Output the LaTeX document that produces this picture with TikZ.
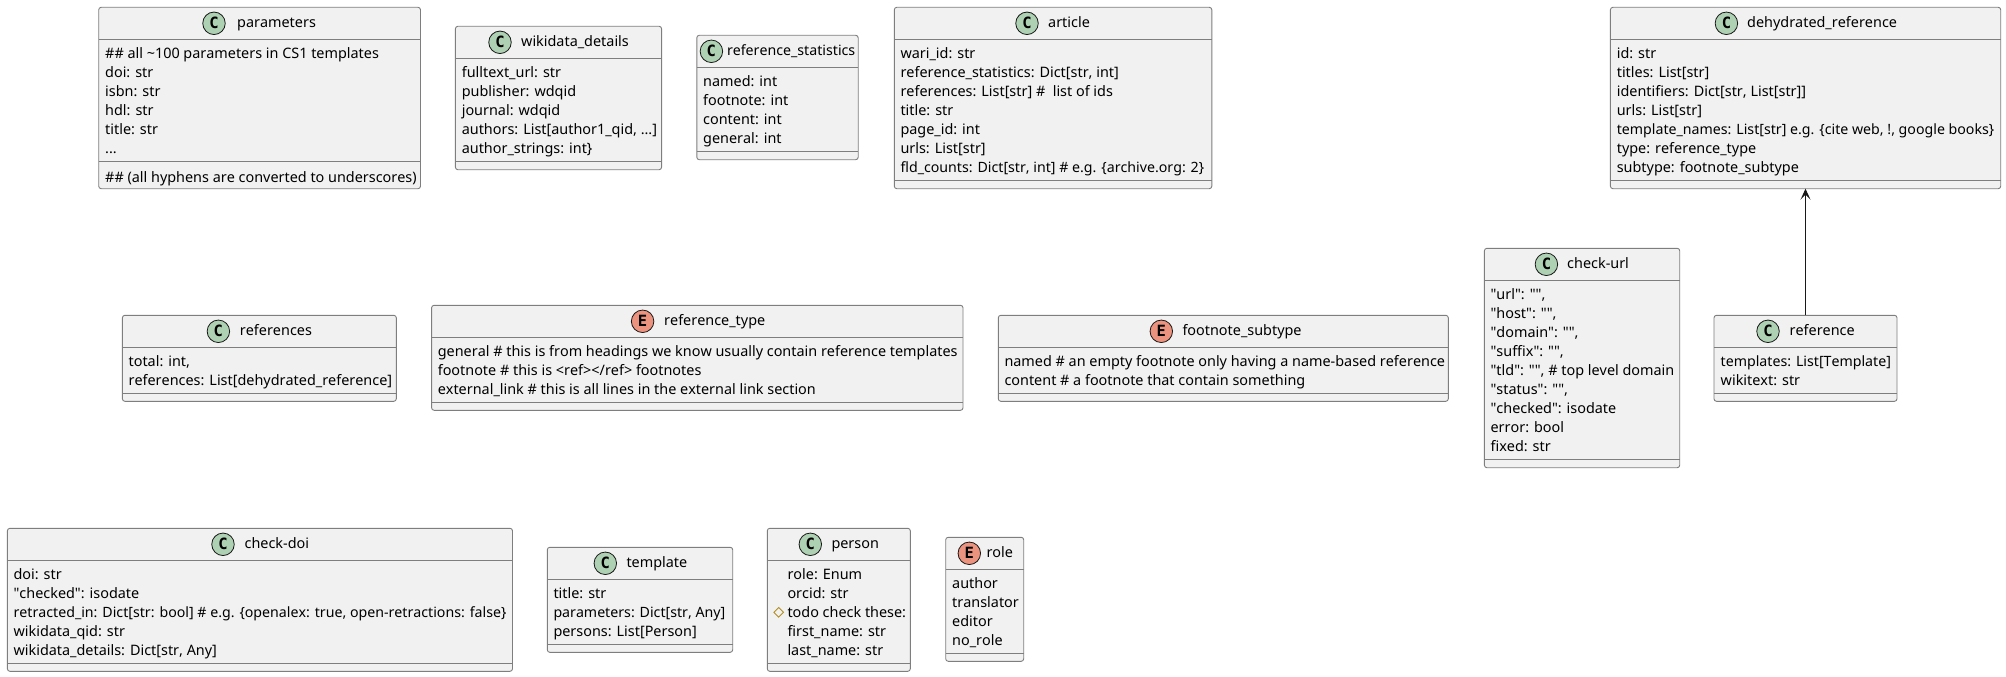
\documentclass[tikz,border=0pt]{standalone}
\usepackage{fontspec}
\setmainfont[Ligatures={NoCommon,TeXOff},Kerning=Off]{Noto Sans}
\newfontfamily\markfont{DejaVu Sans Mono}
\usetikzlibrary{arrows.meta}
\usetikzlibrary{shapes.geometric}

\definecolor{boxfill}{HTML}{F1F1F1}
\definecolor{boxline}{HTML}{7E7E7E}
\definecolor{classgreen}{HTML}{ADD1B2}
\definecolor{enumred}{HTML}{EB937F}
\definecolor{darkline}{HTML}{181818}
\definecolor{protectedgold}{HTML}{B38D22}

\tikzset{
  classbox/.style={draw=boxline, fill=boxfill, line width=0.9pt, rounded corners=2.5pt, inner sep=0pt, outer sep=0pt, anchor=north west},
  classline/.style={draw=boxline, line width=0.9pt},
  classmark/.style={circle, draw=darkline, line width=0.8pt, minimum size=22.5pt, inner sep=0pt, font=\markfont\fontsize{15.5}{16}\selectfont\bfseries},
  classtitle/.style={inner sep=0pt, anchor=mid west, font=\fontsize{14.4}{19}\selectfont},
  fieldlist/.style={inner sep=0pt, anchor=north west, align=left, font=\fontsize{14.4}{19}\selectfont, execute at begin node=\strut},
  assoc/.style={-{Stealth[length=11pt, width=10pt, inset=5pt]}, draw=darkline, line width=1.1pt}
}

\newcommand{\classframe}[7]{
  \node [classbox, minimum width={#4pt-#2pt}, minimum height={#5pt-#3pt}] (#1) at (#2,#3) {};
  \draw [classline] (#2,#6) -- (#4,#6);
  \draw [classline] (#2,#7) -- (#4,#7);
}
\newcommand{\classhead}[6]{
  \node [classmark, fill=#2] (#1-mark) at (#3) {#4};
  \node [classtitle] (#1-title) at ([yshift=-2pt]#5) {#6};
}
\newcommand{\classfields}[4]{
  \node [fieldlist] (#1) at (#2,#3-5.7) {#4};
}
\newcommand{\tightline}[1]{{\fontsize{14.18}{19}\selectfont #1}}

\begin{document}
\begin{tikzpicture}[x=1pt, y=-1pt]
  \useasboundingbox (0,0) rectangle (2006,677);

  \classframe{parameters}{98.7}{7.3}{420.5}{188.7}{39.3}{161.3}
  \classhead{parameters}{classgreen}{214,23.3}{C}{237,23.3}{parameters}
  \classfields{parameters-fields}{105}{53}{\#\# all \textasciitilde100 parameters in CS1 templates\\doi: str\\isbn: str\\hdl: str\\title: str\\...}
  \classfields{parameters-note}{105}{175}{\#\# (all hyphens are converted to underscores)}

  \classframe{wikidata_details}{455.4}{26.3}{661.6}{169.7}{58.3}{161.3}
  \classhead{wikidata_details}{classgreen}{500,42.3}{C}{521,42.3}{wikidata\_details}
  \classfields{wikidata_details-fields}{461.6}{72}{fulltext\_url: str\\publisher: wdqid\\journal: wdqid\\authors: List[author1\_qid, ...]\\author\_strings: int\}}

  \classframe{reference_statistics}{696.8}{35.3}{858.2}{159.7}{67.3}{151.7}
  \classhead{reference_statistics}{classgreen}{711.4,51.3}{C}{726.8,51.3}{\tightline{reference\_statistics}}
  \classfields{reference_statistics-fields}{703}{81.3}{named: int\\footnote: int\\content: int\\general: int}

  \classframe{article}{894.3}{7.3}{1211.8}{188.7}{39.3}{180.3}
  \classhead{article}{classgreen}{1027,23.3}{C}{1048,23.3}{article}
  \classfields{article-fields}{900.3}{53}{wari\_id: str\\reference\_statistics: Dict[str, int]\\references: List[str] \#~~list of ids\\title: str\\page\_id: int\\urls: List[str]\\\tightline{fld\_counts: Dict[str, int] \# e.g. \{archive.org: 2\}}}

  \classframe{dehydrated_reference}{1610.4}{7.3}{2000.7}{188.7}{39.3}{180.3}
  \classhead{dehydrated_reference}{classgreen}{1726.4,23.3}{C}{1747,23.3}{dehydrated\_reference}
  \classfields{dehydrated_reference-fields}{1616.6}{53}{id: str\\titles: List[str]\\identifiers: Dict[str, List[str]]\\urls: List[str]\\\tightline{template\_names: List[str] e.g. \{cite web, !, google books\}}\\type: reference\_type\\subtype: footnote\_subtype}

  \classframe{check_url}{1484.4}{248.3}{1679.7}{467.7}{280.7}{459.3}
  \classhead{check_url}{classgreen}{1546.4,264.3}{C}{1567,264.3}{check-url}
  \classfields{check_url-fields}{1490.4}{294.3}{"url": "",\\"host": "",\\"domain": "",\\"suffix": "",\\"tld": "", \# top level domain\\"status": "",\\"checked": isodate\\error: bool\\fixed: str}

  \classframe{reference}{1714}{315.3}{1897}{401.3}{347.3}{393.3}
  \classhead{reference}{classgreen}{1768,331.3}{C}{1789.4,331.3}{reference}
  \classfields{reference-fields}{1720.5}{361.3}{\tightline{templates: List[Template]}\\wikitext: str}

  \classframe{references}{122.4}{315.3}{396.3}{401.3}{347.3}{393.3}
  \classhead{references}{classgreen}{218.4,331.3}{C}{239.7,331.3}{references}
  \classfields{references-fields}{128.4}{361.3}{total: int,\\references: List[dehydrated\_reference]}

  \classframe{reference_type}{431.6}{305.3}{963}{410.3}{337.3}{402.3}
  \classhead{reference_type}{enumred}{642.6,321.3}{E}{664,321.3}{reference\_type}
  \classfields{reference_type-fields}{437.6}{351.3}{general \# this is from headings we know usually contain reference templates\\footnote \# this is <ref></ref> footnotes\\external\_link \# this is all lines in the external link section}

  \classframe{footnote_subtype}{998.3}{315.3}{1448.3}{401.3}{347.3}{393.3}
  \classhead{footnote_subtype}{enumred}{1161.3,331.3}{E}{1182.3,331.3}{footnote\_subtype}
  \classfields{footnote_subtype-fields}{1004.3}{361.3}{named \# an empty footnote only having a name-based reference\\content \# a footnote that contain something}

  \classframe{check_doi}{7.4}{528.3}{512.5}{671.3}{560.3}{663.3}
  \classhead{check_doi}{classgreen}{223,544.3}{C}{244.4,544.3}{check-doi}
  \classfields{check_doi-fields}{13.4}{574.3}{doi: str\\"checked": isodate\\\tightline{retracted\_in: Dict[str: bool] \# e.g. \{openalex: true, open-retractions: false\}}\\wikidata\_qid: str\\wikidata\_details: Dict[str, Any]}

  \classframe{template}{547.3}{547.3}{732.7}{652.3}{579.3}{644.3}
  \classhead{template}{classgreen}{605.3,563.3}{C}{626.3,563.3}{template}
  \classfields{template-fields}{553.3}{593.3}{title: str\\\tightline{parameters: Dict[str, Any]}\\persons: List[Person]}

  \classframe{person}{767.3}{528.3}{910.3}{671.3}{560.3}{663.3}
  \classhead{person}{classgreen}{810.3,544.3}{C}{831.3,544.3}{person}
  \classfields{person-fields}{787.3}{574.3}{role: Enum\\orcid: str\\todo check these:\\first\_name: str\\last\_name: str}
  \node [diamond, draw=protectedgold, line width=0.9pt, minimum size=10pt, inner sep=0pt] (person-todomark) at (778.7,612.3) {};

  \classframe{role}{945.7}{537.3}{1023.7}{661.3}{569.3}{653.3}
  \classhead{role}{enumred}{969.3,553.3}{E}{986.3,553.3}{role}
  \classfields{role-fields}{952}{583.3}{author\\translator\\editor\\no\_role}

  \draw [assoc] (reference.north) -- (reference.north |- dehydrated_reference.south);
\end{tikzpicture}
\end{document}
